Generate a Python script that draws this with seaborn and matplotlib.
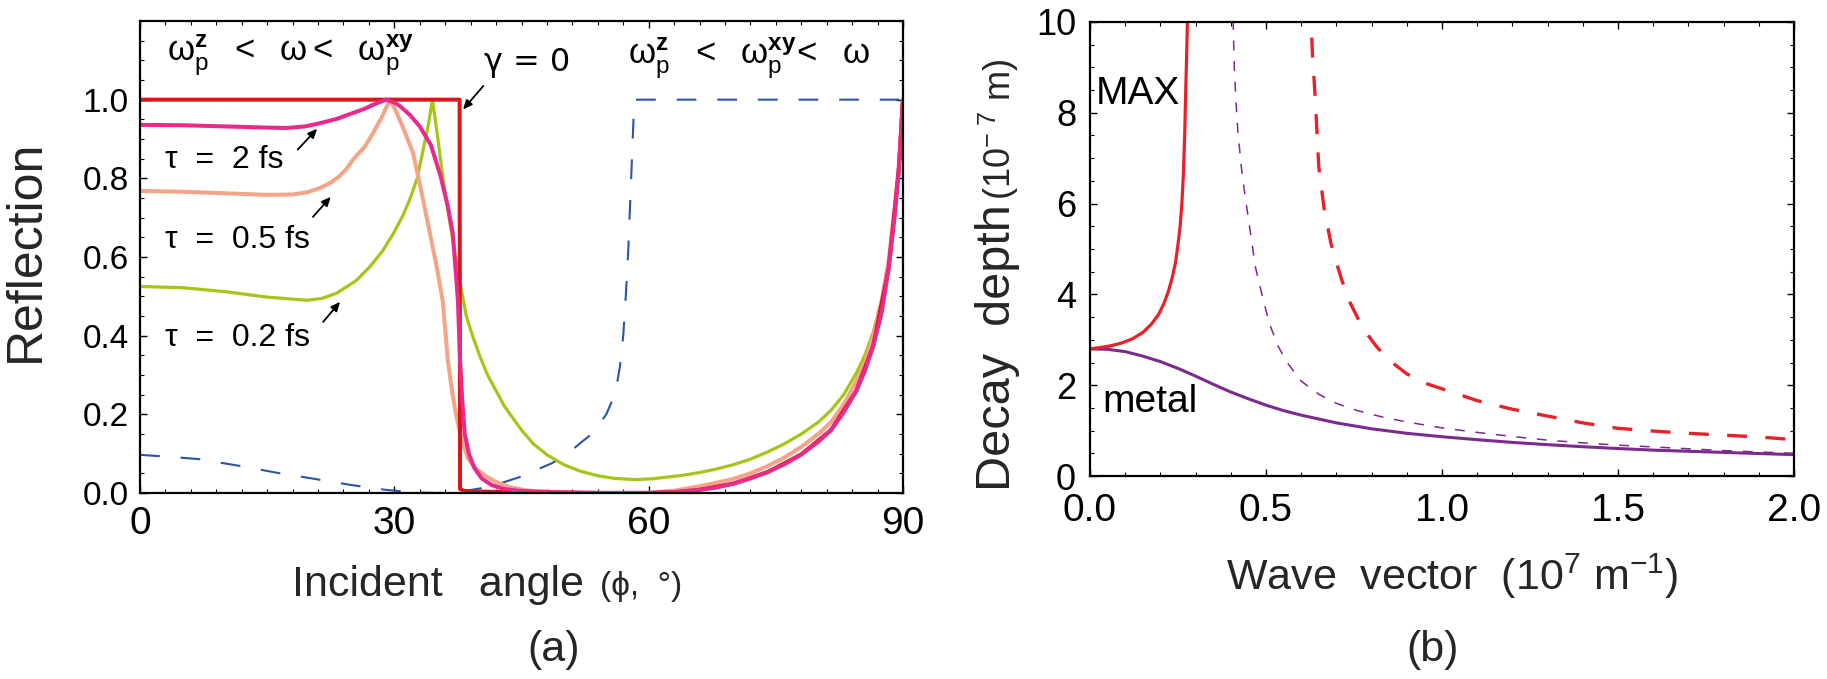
import numpy as np
import pandas as pd
import matplotlib
matplotlib.use("Agg")
import matplotlib.pyplot as plt
from matplotlib.ticker import MultipleLocator, FormatStrFormatter
import seaborn as sns

# ---------------- data: panel (a) ----------------
red_ang = [0, 37.7, 37.75, 38.3, 39.4, 41.5, 46.4, 55, 60, 63, 66, 70, 74, 78, 81.5, 84.5, 86.5, 88.3, 89.5, 90]
red_R = [1.0, 1.0, 0.01, 0.005, 0.004, 0.003, 0.002, 0.0, 0.0, 0.002, 0.008, 0.024, 0.053, 0.098, 0.16,
         0.26, 0.375, 0.57, 0.82, 1.0]

pink_ang = [0, 5, 10, 15, 17.3, 19.5, 21.2, 23.2, 25.1, 26.4, 27.5, 28.3, 29.0, 30.0, 30.7, 31.8, 33.0, 34.3,
            35.4, 36.3, 36.9, 37.5, 37.75, 38.0, 38.3, 38.8, 39.4, 40.3, 41.5, 43, 44.5, 46.4, 50, 55, 60, 63,
            66, 68, 70, 72, 74, 76, 78, 80, 81.5, 83, 84.5, 85.5, 86.5, 87.5, 88.3, 89, 89.5, 90]
pink_R = [0.936, 0.935, 0.932, 0.929, 0.928, 0.932, 0.94, 0.951, 0.966, 0.976, 0.987, 0.994, 1.0, 0.993, 0.983,
          0.962, 0.932, 0.885, 0.81, 0.73, 0.66, 0.49, 0.34, 0.24, 0.15, 0.1, 0.065, 0.037, 0.02, 0.01, 0.006,
          0.004, 0.001, 0.0, 0.0, 0.002, 0.008, 0.014, 0.024, 0.037, 0.053, 0.073, 0.098, 0.13, 0.16, 0.205,
          0.26, 0.31, 0.375, 0.46, 0.57, 0.7, 0.82, 1.0]

salmon_ang = [0, 5, 10, 15, 18, 19.8, 21.2, 22.5, 23.5, 24.4, 25.1, 26.5, 27.5, 28.5, 29.5, 30.3, 31.2, 32.2,
              33.2, 34.2, 35.0, 35.7, 36.3, 36.8, 37.3, 38.0, 38.7, 39.7, 40.8, 42, 43.6, 45.5, 47, 52, 60, 63,
              66, 68, 70, 72, 74, 76, 78, 80, 81.5, 83, 84.5, 85.5, 86.5, 87.5, 88.3, 89, 89.5, 90]
salmon_R = [0.768, 0.766, 0.762, 0.758, 0.759, 0.765, 0.775, 0.789, 0.805, 0.825, 0.847, 0.88, 0.915, 0.955, 1.0,
            0.966, 0.92, 0.865, 0.765, 0.66, 0.575, 0.49, 0.34, 0.26, 0.197, 0.13, 0.087, 0.06, 0.043, 0.028,
            0.015, 0.007, 0.004, 0.0, 0.001, 0.006, 0.017, 0.026, 0.036, 0.05, 0.068, 0.09, 0.117, 0.15, 0.18,
            0.225, 0.285, 0.33, 0.4, 0.49, 0.59, 0.72, 0.83, 1.0]

green_ang = [0, 5, 10, 15, 19.7, 21.5, 23.2, 25.5, 27.1, 28.6, 29.9, 31.0, 31.8, 32.7, 33.4, 34.0, 34.5, 35.2,
             35.8, 36.6, 37.4, 38.5, 39.3, 40.1, 41, 42, 43, 44, 45, 46.4, 48, 50, 52, 54, 56, 58.5, 60.4, 62,
             64, 66, 68, 70, 72, 74, 76, 78, 80, 81.5, 83, 84.5, 85.5, 86.5, 87.5, 88.3, 89, 89.5, 90]
green_R = [0.525, 0.522, 0.512, 0.498, 0.49, 0.495, 0.508, 0.54, 0.575, 0.615, 0.66, 0.705, 0.745, 0.8, 0.873,
           0.935, 1.0, 0.89, 0.79, 0.68, 0.576, 0.449, 0.395, 0.347, 0.3, 0.26, 0.22, 0.19, 0.16, 0.125, 0.097,
           0.072, 0.055, 0.044, 0.037, 0.034, 0.036, 0.04, 0.045, 0.052, 0.061, 0.072, 0.086, 0.104, 0.125,
           0.15, 0.18, 0.21, 0.25, 0.305, 0.35, 0.41, 0.49, 0.58, 0.7, 0.82, 1.0]

blue_ang = [0, 3.5, 7, 12, 16, 20, 25, 29, 32, 35, 38, 40.5, 43, 45, 48.5, 50, 51, 52, 53, 54, 55, 55.7, 56.2,
            56.6, 57, 57.3, 57.6, 57.9, 58.1, 58.3, 90]
blue_R = [0.097, 0.092, 0.086, 0.068, 0.052, 0.038, 0.02, 0.008, 0.002, 0.0, 0.004, 0.013, 0.028, 0.042,
          0.075, 0.092, 0.11, 0.128, 0.145, 0.17, 0.2, 0.235, 0.27, 0.32, 0.4, 0.5, 0.62, 0.78, 0.89, 1.0, 1.0]

# ---------------- data: panel (b) ----------------
max_k = [0, 0.03, 0.06, 0.09, 0.12, 0.15, 0.175, 0.195, 0.21, 0.222, 0.233, 0.243, 0.25, 0.256, 0.261,
         0.265, 0.269, 0.272, 0.275, 0.278]
max_d = [2.8, 2.83, 2.87, 2.93, 3.02, 3.16, 3.35, 3.56, 3.8, 4.05, 4.35, 4.7, 5.1, 5.5, 6.0, 6.6, 7.5, 8.5,
         9.4, 10.5]

metal_k = [0, 0.05, 0.1, 0.15, 0.2, 0.25, 0.3, 0.35, 0.4, 0.45, 0.5, 0.55, 0.6, 0.7, 0.8, 0.9, 1.0, 1.1, 1.2,
           1.3, 1.4, 1.5, 1.6, 1.7, 1.8, 1.9, 2.0]
metal_d = [2.8, 2.79, 2.74, 2.64, 2.52, 2.37, 2.2, 2.02, 1.85, 1.7, 1.56, 1.44, 1.34, 1.17, 1.04, 0.94, 0.865,
           0.8, 0.74, 0.69, 0.645, 0.605, 0.57, 0.545, 0.52, 0.495, 0.47]

pdash_k = [0.405, 0.41, 0.415, 0.42, 0.43, 0.44, 0.455, 0.47, 0.49, 0.51, 0.535, 0.56, 0.6, 0.65, 0.7, 0.76,
           0.83, 0.9, 1.0, 1.1, 1.2, 1.3, 1.4, 1.5, 1.6, 1.7, 1.8, 1.9, 2.0]
pdash_d = [10.5, 9.0, 8.2, 7.6, 6.8, 6.2, 5.4, 4.6, 3.95, 3.35, 2.85, 2.5, 2.09, 1.8, 1.6, 1.44, 1.3, 1.19,
           1.06, 0.96, 0.87, 0.79, 0.73, 0.68, 0.64, 0.6, 0.56, 0.53, 0.5]

rdash_k = [0.625, 0.632, 0.64, 0.65, 0.665, 0.684, 0.7, 0.716, 0.74, 0.764, 0.79, 0.813, 0.85, 0.9, 0.95, 1.0,
           1.1, 1.2, 1.3, 1.4, 1.5, 1.6, 1.7, 1.8, 1.9, 2.0]
rdash_d = [10.5, 9.3, 8.3, 6.8, 5.9, 5.14, 4.7, 4.3, 3.8, 3.43, 3.1, 2.86, 2.55, 2.25, 2.05, 1.92, 1.66, 1.47,
           1.32, 1.17, 1.05, 0.99, 0.94, 0.9, 0.86, 0.8]

xticks_a = [0, 30, 60, 90]
yticks_a = [0.0, 0.2, 0.4, 0.6, 0.8, 1.0]
xticks_b = [0.0, 0.5, 1.0, 1.5, 2.0]
yticks_b = [0, 2, 4, 6, 8, 10]

# ---------------- style ----------------
sns.set_theme(style="ticks")
plt.rcParams.update({
    "font.family": ["Liberation Sans", "DejaVu Sans"],
    "mathtext.fontset": "custom",
    "mathtext.rm": "Liberation Sans",
    "mathtext.it": "Liberation Sans",
    "mathtext.bf": "Liberation Sans:bold",
    "axes.linewidth": 1.6,
    "axes.edgecolor": "black",
    "xtick.direction": "in",
    "ytick.direction": "in",
    "xtick.top": True,
    "ytick.right": True,
    "xtick.color": "black",
    "ytick.color": "black",
    "xtick.major.size": 5,
    "ytick.major.size": 5,
    "xtick.minor.size": 3,
    "ytick.minor.size": 3,
    "xtick.major.width": 1.0,
    "ytick.major.width": 1.0,
    "xtick.minor.width": 0.8,
    "ytick.minor.width": 0.8,
    "axes.grid": False,
})

W, H = 1827, 679
fig = plt.figure(figsize=(W / 100, H / 100), dpi=100)


def box(x0, x1, y0, y1):
    return [x0 / W, 1 - y1 / H, (x1 - x0) / W, (y1 - y0) / H]


axA = fig.add_axes(box(140, 903, 21, 493))
axB = fig.add_axes(box(1090, 1794, 22, 476))

# ---------------- panel (a) ----------------
sns.lineplot(x=blue_ang, y=blue_R, ax=axA, color="#2b55a5", lw=1.5, estimator=None, sort=False,
             linestyle=(0, (9.5, 10)))
sns.lineplot(x=green_ang, y=green_R, ax=axA, color="#a3c617", lw=2.3, estimator=None, sort=False)
sns.lineplot(x=salmon_ang, y=salmon_R, ax=axA, color="#f4a487", lw=2.9, estimator=None, sort=False)
sns.lineplot(x=red_ang, y=red_R, ax=axA, color="#d9161e", lw=2.9, estimator=None, sort=False)
sns.lineplot(x=pink_ang, y=pink_R, ax=axA, color="#e82a8b", lw=2.9, estimator=None, sort=False)

axA.set_xlim(0, 90)
axA.set_ylim(0, 1.2)
axA.set_xticks(xticks_a)
axA.set_yticks(yticks_a)
axA.yaxis.set_major_formatter(FormatStrFormatter("%.1f"))
axA.xaxis.set_minor_locator(MultipleLocator(3))
axA.yaxis.set_minor_locator(MultipleLocator(0.05))
axA.tick_params(axis="x", which="major", labelsize=28, pad=9)
axA.tick_params(axis="y", which="major", labelsize=24, pad=8)
axA.tick_params(which="both", top=True, right=True)
axA.set_xlabel("")
axA.set_ylabel("")

txtkw = dict(color="black", va="center", ha="left")
axA.text(3.2, 1.112, r"$\mathrm{\omega}_{\mathrm{p}}^{\mathbf{z}}\ \ <\ \ \mathrm{\omega} <\ \ \mathrm{\omega}_{\mathrm{p}}^{\mathbf{xy}}$",
         fontsize=25, **txtkw)
axA.text(57.6, 1.105, r"$\mathrm{\omega}_{\mathrm{p}}^{\mathbf{z}}\ \ <\ \ \mathrm{\omega}_{\mathrm{p}}^{\mathbf{xy}}\!<\ \ \mathrm{\omega}$",
         fontsize=25, **txtkw)
axA.text(40.6, 1.094, "γ = 0", fontsize=23, family=["DejaVu Sans"], **txtkw)
axA.text(3.0, 0.847, "τ  =  2 fs", fontsize=23, **txtkw)
axA.text(3.0, 0.644, "τ  =  0.5 fs", fontsize=23, **txtkw)
axA.text(3.0, 0.394, "τ  =  0.2 fs", fontsize=23, **txtkw)

arw = dict(arrowstyle="-|>,head_length=0.45,head_width=0.2", color="black", lw=1.3,
           shrinkA=0, shrinkB=0)
axA.annotate("", xy=(38.1, 0.975), xytext=(40.5, 1.035), arrowprops=arw)
axA.annotate("", xy=(20.9, 0.926), xytext=(18.6, 0.873), arrowprops=arw)
axA.annotate("", xy=(22.5, 0.753), xytext=(20.4, 0.702), arrowprops=arw)
axA.annotate("", xy=(23.6, 0.486), xytext=(21.6, 0.435), arrowprops=arw)

# axis labels for (a)
fig.text(26 / W, 1 - 251 / H, "Reflection", rotation=90, fontsize=36, ha="center", va="center")
fig.text(584 / W, 1 - 585 / H, "Incident   angle", fontsize=31, ha="right", va="center")
fig.text(600 / W, 1 - 587 / H, "(ϕ,  °)", fontsize=24, ha="left", va="center")
fig.text(554 / W, 1 - 650 / H, "(a)", fontsize=31, ha="center", va="center")

# ---------------- panel (b) ----------------
sns.lineplot(x=metal_k, y=metal_d, ax=axB, color="#7b2a8e", lw=2.2, estimator=None, sort=False)
sns.lineplot(x=pdash_k, y=pdash_d, ax=axB, color="#7b2a8e", lw=1.1, estimator=None, sort=False,
             linestyle=(0, (6.5, 7)))
sns.lineplot(x=rdash_k, y=rdash_d, ax=axB, color="#e8212b", lw=2.4, estimator=None, sort=False,
             linestyle=(0, (6, 5.5)))
sns.lineplot(x=max_k, y=max_d, ax=axB, color="#e8212b", lw=2.3, estimator=None, sort=False)

axB.set_xlim(0, 2.0)
axB.set_ylim(0, 10)
axB.set_xticks(xticks_b)
axB.set_yticks(yticks_b)
axB.xaxis.set_major_formatter(FormatStrFormatter("%.1f"))
axB.xaxis.set_minor_locator(MultipleLocator(0.1))
axB.yaxis.set_minor_locator(MultipleLocator(0.5))
axB.tick_params(axis="x", which="major", labelsize=28, pad=12)
axB.tick_params(axis="y", which="major", labelsize=26, pad=10)
axB.tick_params(which="both", top=True, right=True)
axB.set_xlabel("")
axB.set_ylabel("")

axB.text(0.017, 8.41, "MAX", fontsize=28, **txtkw)
axB.text(0.034, 1.63, "metal", fontsize=28, **txtkw)

fig.text(997 / W, 1 - 491 / H, "Decay  depth", rotation=90, fontsize=35, ha="center", va="bottom")
fig.text(999 / W, 1 - 200 / H, r"(10$^{-\ 7}$ m)", rotation=90, fontsize=26, ha="center", va="bottom")
fig.text(1452 / W, 1 - 576 / H, r"Wave  vector  (10$^{7}$ m$^{-1}$)", fontsize=31, ha="center", va="center")
fig.text(1433 / W, 1 - 650 / H, "(b)", fontsize=31, ha="center", va="center")

fig.savefig("out.png", dpi=100)
